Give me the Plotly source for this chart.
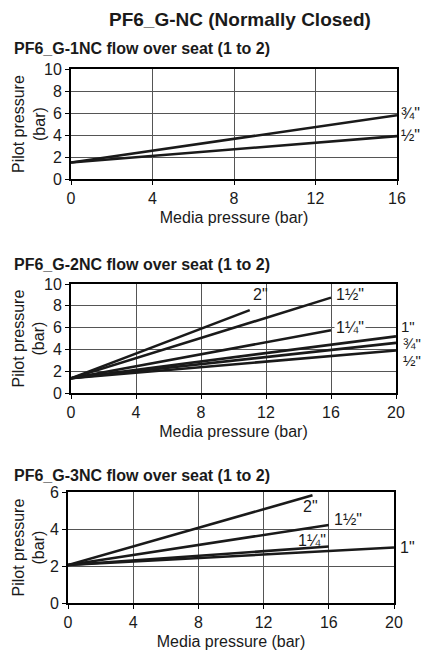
import plotly.graph_objects as go

# 数据：每条曲线取起点和终点
g1_sizes = ['¾"', '½"']
g1_x = [[0, 16], [0, 16]]
g1_y = [[1.5, 5.8], [1.5, 3.9]]

g2_sizes = ['2"', '1½"', '1¼"', '1"', '¾"', '½"']
g2_x = [[0, 11], [0, 16], [0, 16], [0, 20], [0, 20], [0, 20]]
g2_y = [[1.35, 7.6], [1.35, 8.75], [1.35, 5.75], [1.35, 5.2], [1.35, 4.6], [1.35, 3.9]]

g3_sizes = ['2"', '1½"', '1¼"', '1"']
g3_x = [[0, 15], [0, 16], [0, 16], [0, 20]]
g3_y = [[2.05, 5.82], [2.05, 4.22], [2.05, 3.05], [2.05, 3.0]]

W, H = 433, 654
FONT = 'Liberation Sans, Arial, sans-serif'
INK = '#1a1a1a'


def px_x(a, b):
    return [a / W, b / W]


def px_y(top, bottom):
    return [1 - bottom / H, 1 - top / H]


panels = [
    dict(xs=g1_x, ys=g1_y, xd=px_x(71, 397), yd=px_y(69, 179), xr=16, xt=[0, 4, 8, 12, 16],
         yr=10, yt=[0, 2, 4, 6, 8, 10], ytx=29),
    dict(xs=g2_x, ys=g2_y, xd=px_x(71, 396), yd=px_y(284, 393), xr=20, xt=[0, 4, 8, 12, 16, 20],
         yr=10, yt=[0, 2, 4, 6, 8, 10], ytx=29),
    dict(xs=g3_x, ys=g3_y, xd=px_x(68, 394), yd=px_y(492, 603), xr=20, xt=[0, 4, 8, 12, 16, 20],
         yr=6, yt=[0, 2, 4, 6], ytx=28),
]

fig = go.Figure()
layout = {}
for i, p in enumerate(panels):
    n = '' if i == 0 else str(i + 1)
    for xs, ys in zip(p['xs'], p['ys']):
        fig.add_trace(go.Scatter(x=xs, y=ys, mode='lines', xaxis='x' + n, yaxis='y' + n,
                                 line=dict(color=INK, width=2.6), showlegend=False, hoverinfo='skip'))
    layout['xaxis' + n] = dict(
        domain=p['xd'], anchor='y' + n, range=[0, p['xr']], tickvals=p['xt'], automargin=False,
        showgrid=True, gridcolor='#555', gridwidth=1, zeroline=False,
        showline=True, linecolor='black', linewidth=2, mirror=True,
        ticks='outside', ticklen=4, tickcolor='black',
        tickfont=dict(size=16, color=INK, family=FONT),
        title=dict(text='Media pressure (bar)', font=dict(size=16, color=INK, family=FONT), standoff=6),
    )
    layout['yaxis' + n] = dict(
        domain=p['yd'], anchor='x' + n, range=[0, p['yr']], tickvals=p['yt'], automargin=False,
        showgrid=True, gridcolor='#555', gridwidth=1, zeroline=False,
        showline=True, linecolor='black', linewidth=2, mirror=True,
        ticks='outside', ticklen=4, tickcolor='black',
        tickfont=dict(size=16, color=INK, family=FONT),
    )
    # y 轴标题用注释放置，位置更好控制
    fig.add_annotation(x=p['ytx'] / W, y=sum(p['yd']) / 2, xref='paper', yref='paper',
                       text='Pilot pressure<br>(bar)', textangle=-90, showarrow=False,
                       xanchor='center', yanchor='middle',
                       font=dict(size=16, color=INK, family=FONT))

fig.update_layout(**layout)

# 曲线标注（dx 为相对轴末端的像素偏移）
labels = [
    ('', g1_sizes[0], 16, 6.0, 2, False, 16),
    ('', g1_sizes[1], 16, 4.0, 2, False, 16),
    ('2', g2_sizes[0], 11.1, 9.0, 0, False, 16),
    ('2', g2_sizes[1], 16, 9.0, 3, False, 16),
    ('2', g2_sizes[2], 16, 6.0, 3, True, 16),
    ('2', g2_sizes[3], 20, 6.1, 3, False, 15),
    ('2', g2_sizes[4], 20, 4.55, 5, False, 15),
    ('2', g2_sizes[5], 20, 3.0, 5, False, 15),
    ('3', g3_sizes[0], 14.3, 5.2, 0, False, 16),
    ('3', g3_sizes[1], 16, 4.5, 3, False, 16),
    ('3', g3_sizes[2], 14.0, 3.4, 0, False, 16),
    ('3', g3_sizes[3], 20, 3.0, 4, False, 16),
]
for n, txt, x, y, dx, bg, fs in labels:
    fig.add_annotation(x=x, y=y, xref='x' + n, yref='y' + n, text=txt, showarrow=False,
                       xanchor='left', yanchor='middle', xshift=dx,
                       bgcolor='white' if bg else None, borderpad=1,
                       font=dict(size=fs, color=INK, family=FONT))

# 标题
fig.add_annotation(x=240 / W, y=1 - 20 / H, xref='paper', yref='paper', showarrow=False,
                   text='<b>PF6_G-NC (Normally Closed)</b>', xanchor='center', yanchor='middle',
                   font=dict(size=19, color=INK, family=FONT))
for yy, t in [(49, 'PF6_G-1NC flow over seat (1 to 2)'),
              (264, 'PF6_G-2NC flow over seat (1 to 2)'),
              (475, 'PF6_G-3NC flow over seat (1 to 2)')]:
    fig.add_annotation(x=12 / W, y=1 - yy / H, xref='paper', yref='paper', showarrow=False,
                       text='<b>' + t + '</b>', xanchor='left', yanchor='middle',
                       font=dict(size=16, color=INK, family=FONT))

fig.update_layout(width=W, height=H, margin=dict(l=0, r=0, t=0, b=0),
                  paper_bgcolor='white', plot_bgcolor='white', font=dict(family=FONT))

# 去掉浏览器默认的 body 边距
fig.write_html("out.html", config={'displayModeBar': False},
               post_script="document.body.style.margin='0';document.body.style.overflow='hidden';")
